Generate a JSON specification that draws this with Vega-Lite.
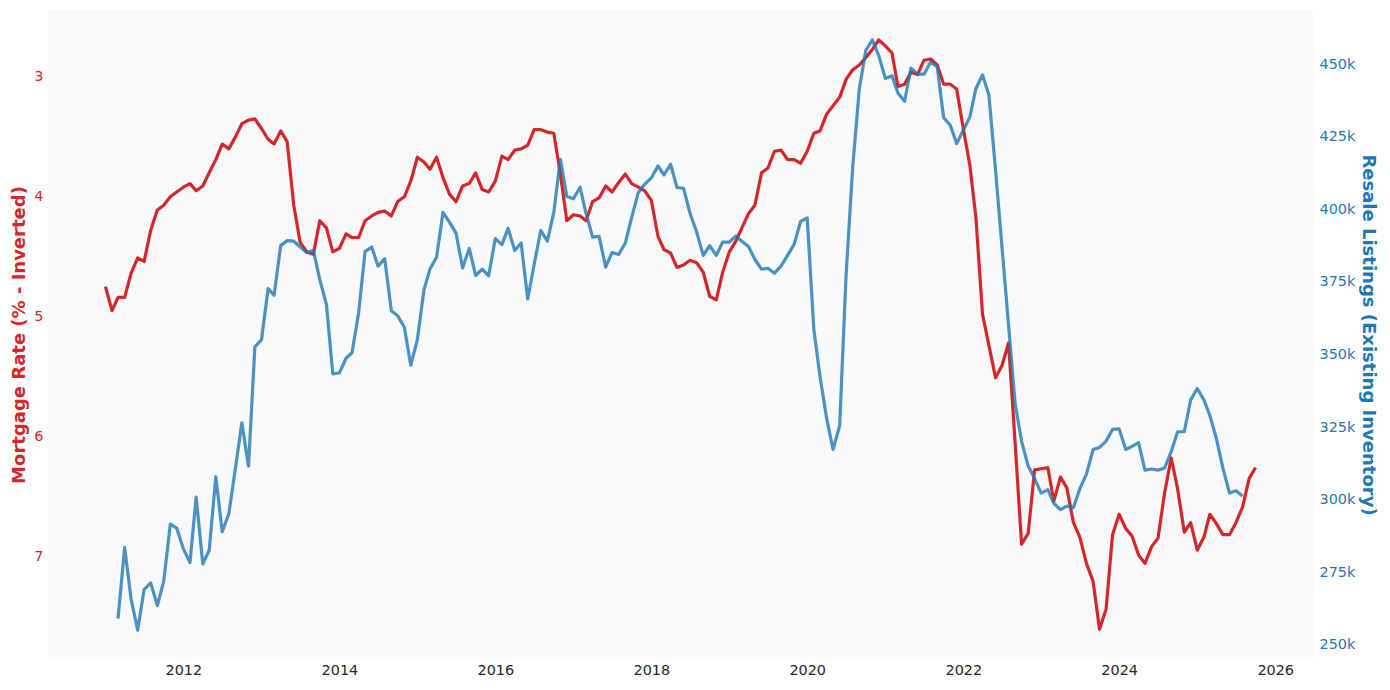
{
  "$schema": "https://vega.github.io/schema/vega-lite/v6.json",
  "width": 1265,
  "height": 649,
  "autosize": {"type": "none"},
  "padding": {"left": 48, "top": 10, "right": 77, "bottom": 31},
  "background": "white",
  "config": {
    "view": {"fill": "#f8f9fa", "stroke": null},
    "font": "DejaVu Sans",
    "axis": {
      "domain": false,
      "ticks": false,
      "grid": false,
      "labelFont": "DejaVu Sans",
      "labelFontSize": 14.4,
      "titleFont": "DejaVu Sans",
      "titleFontSize": 18,
      "titleFontWeight": "bold"
    }
  },
  "data": {
    "values": [
      {"date": "2011-01-01", "rate": 4.75, "listings": null},
      {"date": "2011-02-01", "rate": 4.95, "listings": null},
      {"date": "2011-03-01", "rate": 4.84, "listings": 259100},
      {"date": "2011-04-01", "rate": 4.84, "listings": 283600},
      {"date": "2011-05-01", "rate": 4.64, "listings": 265900},
      {"date": "2011-06-01", "rate": 4.51, "listings": 255100},
      {"date": "2011-07-01", "rate": 4.54, "listings": 269100},
      {"date": "2011-08-01", "rate": 4.28, "listings": 271400},
      {"date": "2011-09-01", "rate": 4.11, "listings": 263600},
      {"date": "2011-10-01", "rate": 4.07, "listings": 271900},
      {"date": "2011-11-01", "rate": 4.00, "listings": 291600},
      {"date": "2011-12-01", "rate": 3.96, "listings": 290200},
      {"date": "2012-01-01", "rate": 3.92, "listings": 283100},
      {"date": "2012-02-01", "rate": 3.89, "listings": 278400},
      {"date": "2012-03-01", "rate": 3.95, "listings": 300900},
      {"date": "2012-04-01", "rate": 3.91, "listings": 277900},
      {"date": "2012-05-01", "rate": 3.80, "listings": 282600},
      {"date": "2012-06-01", "rate": 3.69, "listings": 307900},
      {"date": "2012-07-01", "rate": 3.56, "listings": 289000},
      {"date": "2012-08-01", "rate": 3.60, "listings": 295200},
      {"date": "2012-09-01", "rate": 3.50, "listings": 310900},
      {"date": "2012-10-01", "rate": 3.39, "listings": 326500},
      {"date": "2012-11-01", "rate": 3.36, "listings": 311600},
      {"date": "2012-12-01", "rate": 3.35, "listings": 352600},
      {"date": "2013-01-01", "rate": 3.43, "listings": 355100},
      {"date": "2013-02-01", "rate": 3.52, "listings": 372700},
      {"date": "2013-03-01", "rate": 3.56, "listings": 370400},
      {"date": "2013-04-01", "rate": 3.45, "listings": 387500},
      {"date": "2013-05-01", "rate": 3.54, "listings": 389200},
      {"date": "2013-06-01", "rate": 4.07, "listings": 389000},
      {"date": "2013-07-01", "rate": 4.38, "listings": 387000},
      {"date": "2013-08-01", "rate": 4.46, "listings": 385100},
      {"date": "2013-09-01", "rate": 4.48, "listings": 385800},
      {"date": "2013-10-01", "rate": 4.20, "listings": 375800},
      {"date": "2013-11-01", "rate": 4.26, "listings": 367300},
      {"date": "2013-12-01", "rate": 4.46, "listings": 343300},
      {"date": "2014-01-01", "rate": 4.43, "listings": 343700},
      {"date": "2014-02-01", "rate": 4.31, "listings": 348700},
      {"date": "2014-03-01", "rate": 4.34, "listings": 350600},
      {"date": "2014-04-01", "rate": 4.34, "listings": 364400},
      {"date": "2014-05-01", "rate": 4.20, "listings": 385400},
      {"date": "2014-06-01", "rate": 4.16, "listings": 387000},
      {"date": "2014-07-01", "rate": 4.13, "listings": 380400},
      {"date": "2014-08-01", "rate": 4.12, "listings": 383000},
      {"date": "2014-09-01", "rate": 4.16, "listings": 365100},
      {"date": "2014-10-01", "rate": 4.04, "listings": 363300},
      {"date": "2014-11-01", "rate": 4.00, "listings": 359400},
      {"date": "2014-12-01", "rate": 3.87, "listings": 346300},
      {"date": "2015-01-01", "rate": 3.67, "listings": 355100},
      {"date": "2015-02-01", "rate": 3.71, "listings": 372300},
      {"date": "2015-03-01", "rate": 3.77, "listings": 379400},
      {"date": "2015-04-01", "rate": 3.67, "listings": 383500},
      {"date": "2015-05-01", "rate": 3.84, "listings": 398900},
      {"date": "2015-06-01", "rate": 3.98, "listings": 395500},
      {"date": "2015-07-01", "rate": 4.04, "listings": 391800},
      {"date": "2015-08-01", "rate": 3.91, "listings": 379800},
      {"date": "2015-09-01", "rate": 3.89, "listings": 386500},
      {"date": "2015-10-01", "rate": 3.80, "listings": 377200},
      {"date": "2015-11-01", "rate": 3.94, "listings": 379400},
      {"date": "2015-12-01", "rate": 3.96, "listings": 377100},
      {"date": "2016-01-01", "rate": 3.87, "listings": 389900},
      {"date": "2016-02-01", "rate": 3.66, "listings": 387800},
      {"date": "2016-03-01", "rate": 3.69, "listings": 393400},
      {"date": "2016-04-01", "rate": 3.61, "listings": 385800},
      {"date": "2016-05-01", "rate": 3.60, "listings": 388400},
      {"date": "2016-06-01", "rate": 3.57, "listings": 369100},
      {"date": "2016-07-01", "rate": 3.44, "listings": 381000},
      {"date": "2016-08-01", "rate": 3.44, "listings": 392700},
      {"date": "2016-09-01", "rate": 3.46, "listings": 389000},
      {"date": "2016-10-01", "rate": 3.47, "listings": 398900},
      {"date": "2016-11-01", "rate": 3.81, "listings": 417200},
      {"date": "2016-12-01", "rate": 4.20, "listings": 404400},
      {"date": "2017-01-01", "rate": 4.15, "listings": 403600},
      {"date": "2017-02-01", "rate": 4.16, "listings": 407600},
      {"date": "2017-03-01", "rate": 4.20, "listings": 398600},
      {"date": "2017-04-01", "rate": 4.04, "listings": 390400},
      {"date": "2017-05-01", "rate": 4.01, "listings": 390700},
      {"date": "2017-06-01", "rate": 3.91, "listings": 380100},
      {"date": "2017-07-01", "rate": 3.96, "listings": 385100},
      {"date": "2017-08-01", "rate": 3.88, "listings": 384400},
      {"date": "2017-09-01", "rate": 3.81, "listings": 388400},
      {"date": "2017-10-01", "rate": 3.89, "listings": 397200},
      {"date": "2017-11-01", "rate": 3.92, "listings": 405800},
      {"date": "2017-12-01", "rate": 3.95, "listings": 408600},
      {"date": "2018-01-01", "rate": 4.03, "listings": 410800},
      {"date": "2018-02-01", "rate": 4.33, "listings": 414900},
      {"date": "2018-03-01", "rate": 4.44, "listings": 411800},
      {"date": "2018-04-01", "rate": 4.47, "listings": 415500},
      {"date": "2018-05-01", "rate": 4.59, "listings": 407500},
      {"date": "2018-06-01", "rate": 4.57, "listings": 407200},
      {"date": "2018-07-01", "rate": 4.53, "listings": 398600},
      {"date": "2018-08-01", "rate": 4.55, "listings": 392200},
      {"date": "2018-09-01", "rate": 4.63, "listings": 384100},
      {"date": "2018-10-01", "rate": 4.83, "listings": 387500},
      {"date": "2018-11-01", "rate": 4.86, "listings": 384100},
      {"date": "2018-12-01", "rate": 4.63, "listings": 388700},
      {"date": "2019-01-01", "rate": 4.46, "listings": 388700},
      {"date": "2019-02-01", "rate": 4.37, "listings": 390800},
      {"date": "2019-03-01", "rate": 4.26, "listings": 389000},
      {"date": "2019-04-01", "rate": 4.14, "listings": 387200},
      {"date": "2019-05-01", "rate": 4.07, "listings": 382700},
      {"date": "2019-06-01", "rate": 3.80, "listings": 379400},
      {"date": "2019-07-01", "rate": 3.76, "listings": 379700},
      {"date": "2019-08-01", "rate": 3.62, "listings": 378000},
      {"date": "2019-09-01", "rate": 3.61, "listings": 380500},
      {"date": "2019-10-01", "rate": 3.69, "listings": 384100},
      {"date": "2019-11-01", "rate": 3.69, "listings": 388000},
      {"date": "2019-12-01", "rate": 3.72, "listings": 395800},
      {"date": "2020-01-01", "rate": 3.62, "listings": 397000},
      {"date": "2020-02-01", "rate": 3.47, "listings": 358700},
      {"date": "2020-03-01", "rate": 3.45, "listings": 342300},
      {"date": "2020-04-01", "rate": 3.31, "listings": 328000},
      {"date": "2020-05-01", "rate": 3.24, "listings": 317300},
      {"date": "2020-06-01", "rate": 3.17, "listings": 325500},
      {"date": "2020-07-01", "rate": 3.02, "listings": 377300},
      {"date": "2020-08-01", "rate": 2.94, "listings": 414400},
      {"date": "2020-09-01", "rate": 2.90, "listings": 441500},
      {"date": "2020-10-01", "rate": 2.84, "listings": 454600},
      {"date": "2020-11-01", "rate": 2.77, "listings": 458300},
      {"date": "2020-12-01", "rate": 2.69, "listings": 452900},
      {"date": "2021-01-01", "rate": 2.74, "listings": 445000},
      {"date": "2021-02-01", "rate": 2.80, "listings": 446000},
      {"date": "2021-03-01", "rate": 3.08, "listings": 440000},
      {"date": "2021-04-01", "rate": 3.06, "listings": 437200},
      {"date": "2021-05-01", "rate": 2.96, "listings": 448600},
      {"date": "2021-06-01", "rate": 2.98, "listings": 446500},
      {"date": "2021-07-01", "rate": 2.86, "listings": 446500},
      {"date": "2021-08-01", "rate": 2.85, "listings": 450700},
      {"date": "2021-09-01", "rate": 2.90, "listings": 449000},
      {"date": "2021-10-01", "rate": 3.06, "listings": 431500},
      {"date": "2021-11-01", "rate": 3.06, "listings": 428900},
      {"date": "2021-12-01", "rate": 3.10, "listings": 422600},
      {"date": "2022-01-01", "rate": 3.43, "listings": 427200},
      {"date": "2022-02-01", "rate": 3.74, "listings": 431800},
      {"date": "2022-03-01", "rate": 4.17, "listings": 441500},
      {"date": "2022-04-01", "rate": 4.98, "listings": 446200},
      {"date": "2022-05-01", "rate": 5.24, "listings": 439300},
      {"date": "2022-06-01", "rate": 5.51, "listings": 413600},
      {"date": "2022-07-01", "rate": 5.41, "listings": 387200},
      {"date": "2022-08-01", "rate": 5.22, "listings": 360100},
      {"date": "2022-09-01", "rate": 6.06, "listings": 333000},
      {"date": "2022-10-01", "rate": 6.90, "listings": 320200},
      {"date": "2022-11-01", "rate": 6.81, "listings": 311600},
      {"date": "2022-12-01", "rate": 6.28, "listings": 307300},
      {"date": "2023-01-01", "rate": 6.27, "listings": 302300},
      {"date": "2023-02-01", "rate": 6.26, "listings": 303500},
      {"date": "2023-03-01", "rate": 6.54, "listings": 298800},
      {"date": "2023-04-01", "rate": 6.34, "listings": 296600},
      {"date": "2023-05-01", "rate": 6.43, "listings": 297800},
      {"date": "2023-06-01", "rate": 6.72, "listings": 297300},
      {"date": "2023-07-01", "rate": 6.84, "listings": 303800},
      {"date": "2023-08-01", "rate": 7.06, "listings": 308800},
      {"date": "2023-09-01", "rate": 7.21, "listings": 317300},
      {"date": "2023-10-01", "rate": 7.61, "listings": 318000},
      {"date": "2023-11-01", "rate": 7.44, "listings": 320200},
      {"date": "2023-12-01", "rate": 6.82, "listings": 324200},
      {"date": "2024-01-01", "rate": 6.65, "listings": 324400},
      {"date": "2024-02-01", "rate": 6.77, "listings": 317300},
      {"date": "2024-03-01", "rate": 6.83, "listings": 318400},
      {"date": "2024-04-01", "rate": 6.99, "listings": 319700},
      {"date": "2024-05-01", "rate": 7.06, "listings": 310200},
      {"date": "2024-06-01", "rate": 6.92, "listings": 310600},
      {"date": "2024-07-01", "rate": 6.85, "listings": 310200},
      {"date": "2024-08-01", "rate": 6.47, "listings": 310900},
      {"date": "2024-09-01", "rate": 6.18, "listings": 316600},
      {"date": "2024-10-01", "rate": 6.44, "listings": 323400},
      {"date": "2024-11-01", "rate": 6.80, "listings": 323400},
      {"date": "2024-12-01", "rate": 6.72, "listings": 334400},
      {"date": "2025-01-01", "rate": 6.95, "listings": 338300},
      {"date": "2025-02-01", "rate": 6.84, "listings": 334400},
      {"date": "2025-03-01", "rate": 6.65, "listings": 329000},
      {"date": "2025-04-01", "rate": 6.73, "listings": 320900},
      {"date": "2025-05-01", "rate": 6.82, "listings": 310900},
      {"date": "2025-06-01", "rate": 6.82, "listings": 302300},
      {"date": "2025-07-01", "rate": 6.72, "listings": 303100},
      {"date": "2025-08-01", "rate": 6.59, "listings": 301300},
      {"date": "2025-09-01", "rate": 6.35, "listings": null},
      {"date": "2025-10-01", "rate": 6.26, "listings": null}
    ]
  },
  "encoding": {
    "x": {
      "field": "date",
      "type": "temporal",
      "scale": {
        "domain": [{"year": 2010, "month": 4, "date": 7}, {"year": 2026, "month": 6, "date": 27}],
        "nice": false
      },
      "axis": {
        "title": null,
        "format": "%Y",
        "labelColor": "#262626",
        "labelPadding": 4,
        "values": [
          {"year": 2012, "month": 1, "date": 1},
          {"year": 2014, "month": 1, "date": 1},
          {"year": 2016, "month": 1, "date": 1},
          {"year": 2018, "month": 1, "date": 1},
          {"year": 2020, "month": 1, "date": 1},
          {"year": 2022, "month": 1, "date": 1},
          {"year": 2024, "month": 1, "date": 1},
          {"year": 2026, "month": 1, "date": 1}
        ]
      }
    }
  },
  "layer": [
    {
      "mark": {"type": "line", "color": "#d62728", "strokeWidth": 3.2, "strokeJoin": "round"},
      "encoding": {
        "y": {
          "field": "rate",
          "type": "quantitative",
          "scale": {"domain": [2.441, 7.858], "reverse": true, "nice": false, "zero": false},
          "axis": {
            "orient": "left",
            "title": "Mortgage Rate (% - Inverted)",
            "values": [3, 4, 5, 6, 7],
            "labelColor": "#d62728",
            "titleColor": "#d62728",
            "labelPadding": 5,
            "titlePadding": 5
          }
        }
      }
    },
    {
      "transform": [{"filter": "isValid(datum.listings)"}],
      "mark": {"type": "line", "color": "#1f77b4", "opacity": 0.8, "strokeWidth": 3.2, "strokeJoin": "round"},
      "encoding": {
        "y": {
          "field": "listings",
          "type": "quantitative",
          "scale": {"domain": [245180, 468590], "nice": false, "zero": false},
          "axis": {
            "orient": "right",
            "title": "Resale Listings (Existing Inventory)",
            "format": "~s",
            "values": [250000, 275000, 300000, 325000, 350000, 375000, 400000, 425000, 450000],
            "labelColor": "#1f77b4",
            "titleColor": "#1f77b4",
            "labelPadding": 6,
            "titlePadding": 4
          }
        }
      }
    }
  ],
  "resolve": {"scale": {"y": "independent"}, "axis": {"y": "independent"}}
}
